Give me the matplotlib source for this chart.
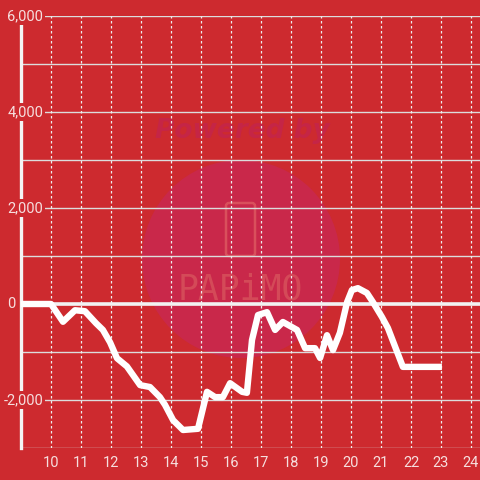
import numpy as np
import matplotlib
matplotlib.use('Agg')
import matplotlib.pyplot as plt
from matplotlib.patches import Circle, FancyBboxPatch

plt.rcParams['font.family'] = ['Roboto', 'DejaVu Sans']

BG = '#cd2a2f'
GRID = '#dcdcdc'
TXT = '#f6dede'

# hour of day vs value
hours = [9.0, 10.0, 10.4, 10.8, 11.13, 11.5, 11.73, 11.97, 12.2, 12.53, 12.97, 13.3,
         13.63, 13.8, 14.07, 14.4, 14.9, 15.2, 15.47, 15.73, 15.97, 16.37, 16.53,
         16.7, 16.9, 17.2, 17.47, 17.73, 18.2, 18.47, 18.8, 18.97, 19.2, 19.4,
         19.63, 19.87, 20.03, 20.23, 20.53, 20.73, 21.03, 21.23, 21.73, 23.03]
values = [0, 0, -370, -130, -150, -400, -540, -800, -1130, -1300, -1690, -1730,
          -1940, -2100, -2420, -2625, -2600, -1830, -1940, -1940, -1650, -1830, -1850,
          -750, -230, -170, -540, -375, -540, -920, -920, -1125, -650, -960,
          -600, 40, 290, 330, 230, 40, -270, -500, -1310, -1310]

xticks = list(range(10, 25))
yticks = [-2000, 0, 2000, 4000, 6000]
ygrid = list(range(-3000, 7000, 1000))

fig = plt.figure(figsize=(4.8, 4.8), dpi=100, facecolor=BG)

# watermark layer, behind the chart
wm = fig.add_axes([0, 0, 1, 1], zorder=0)
wm.set_xlim(0, 480); wm.set_ylim(480, 0); wm.axis('off')
wm.set_facecolor('none')
wm.add_patch(Circle((241, 259), 99, facecolor='#c9284a', edgecolor='none'))
wm.text(242, 131, 'Powered by', ha='center', va='center', fontsize=19,
        fontweight='bold', style='italic', color='#c52546', family='DejaVu Sans')
wm.add_patch(FancyBboxPatch((226, 203), 29, 53, boxstyle='round,pad=0,rounding_size=3',
                            facecolor='none', edgecolor='#d9505c', lw=1.8))
wm.text(240, 290, 'PAPiMO', ha='center', va='center', fontsize=25,
        color='#d44a58', family='DejaVu Sans Mono', fontweight='light')

ax = fig.add_axes([21 / 480, 32 / 480, 1 - 21 / 480, 432 / 480], zorder=1)
ax.set_facecolor('none')
ax.set_xlim(9, 9 + 459 / 30)
ax.set_ylim(-3000, 6000)

for y in ygrid:
    ax.axhline(y, color=GRID, lw=1.0, zorder=1)
for x in xticks:
    ax.axvline(x, color='#eeeeee', lw=0.9, ls=(0, (2, 2)), zorder=1)
ax.axhline(0, color='#f2f2f2', lw=2.6, zorder=2)

ax.plot(hours, values, color='white', lw=4.6, solid_joinstyle='round',
        solid_capstyle='butt', zorder=3)

for s in ['top', 'right', 'bottom']:
    ax.spines[s].set_visible(False)
ax.spines['left'].set_color('#f4f4f4')
ax.spines['left'].set_linewidth(2.4)
ax.spines['left'].set_zorder(2.5)

ax.set_xticks(xticks)
ax.set_xticklabels([str(x) for x in xticks])
ax.tick_params(axis='x', length=0, pad=6, labelsize=10.5, labelcolor=TXT)
ax.set_yticks([])

for y in yticks:
    lab = f'{y:,}'
    xr = 22 / 459 if y != 0 else -6 / 459
    ax.text(xr, y, lab, transform=ax.get_yaxis_transform(), ha='right', va='center',
            fontsize=10.5, color=TXT, zorder=5,
            bbox=dict(facecolor=BG, edgecolor='none', pad=1.5))

fig.savefig('out.png', dpi=100, facecolor=BG)
